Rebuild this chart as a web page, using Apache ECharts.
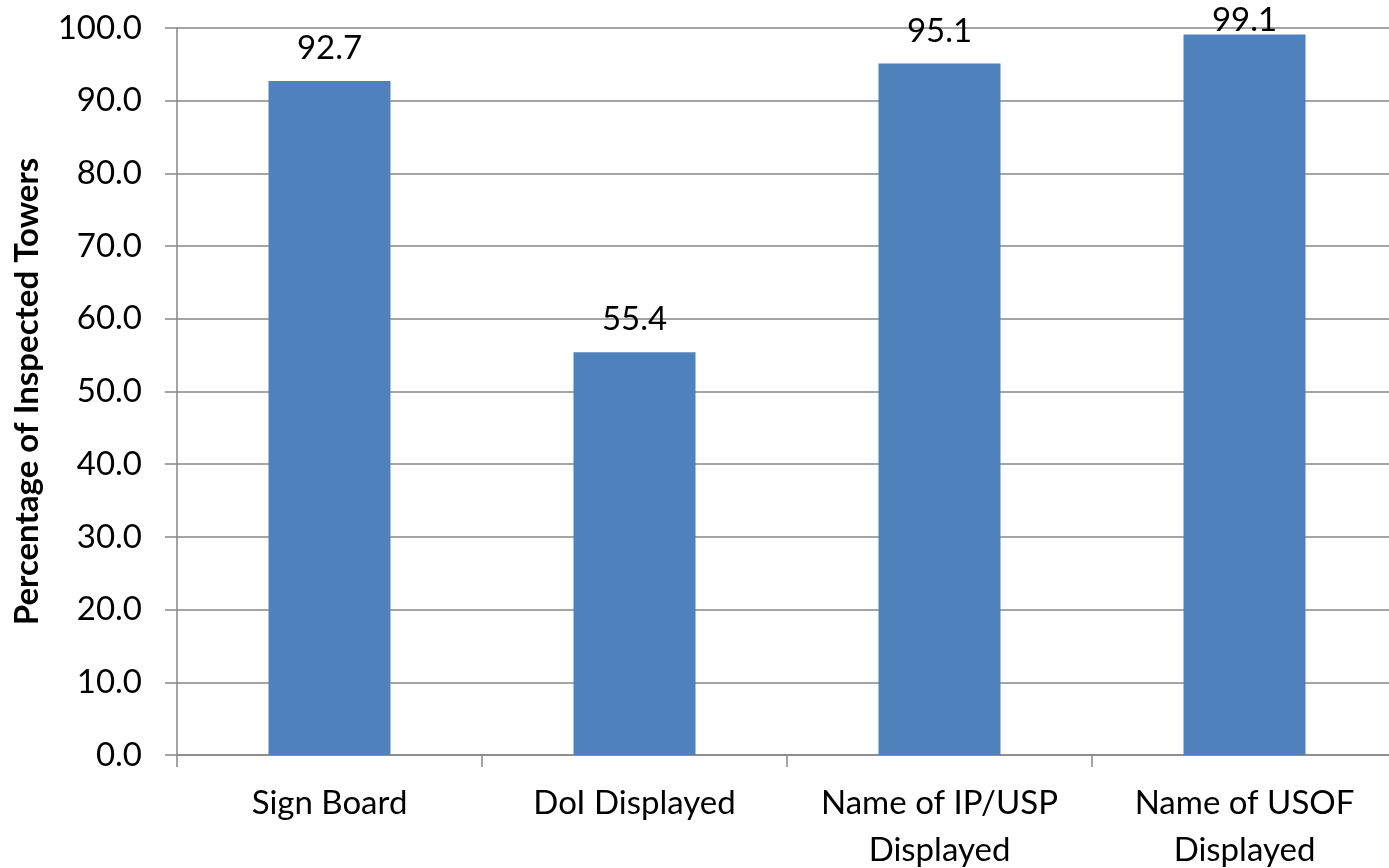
<!DOCTYPE html>
<html><head><meta charset="utf-8">
<script src="https://cdn.jsdelivr.net/npm/echarts@6/dist/echarts.min.js"></script>
<style>html,body{margin:0;padding:0;overflow:hidden;background:#fff}#c{width:1397px;height:868px}</style>
</head><body><div id="c"></div>
<script>
const categories = ["Sign Board", "DoI Displayed", "Name of IP/USP\nDisplayed", "Name of USOF\nDisplayed"];
const values = [92.7, 55.4, 95.1, 99.1];
const yTitle = "Percentage of Inspected Towers";
const chart = echarts.init(document.getElementById('c'), null, {renderer: 'canvas'});
const font = 'Lato, "Open Sans", sans-serif';
// Excel keeps the top label inside the chart area, so near-100 labels sit closer to the bar
const barData = values.map(v => v > 98 ? {value: v, label: {distance: -2}} : v);
chart.setOption({
  animation: false,
  grid: {left: 177, right: 0, top: 28, bottom: 113, containLabel: false, outerBoundsMode: 'none'},
  xAxis: {
    type: 'category', data: categories,
    axisLine: {lineStyle: {color: '#868686', width: 1.5}},
    axisTick: {show: true, length: 12, lineStyle: {color: '#868686', width: 1.5}},
    axisLabel: {color: '#000', fontSize: 33, fontFamily: font, margin: 25, lineHeight: 47, interval: 0}
  },
  yAxis: {
    type: 'value', min: 0, max: 100, interval: 10,
    name: yTitle, nameLocation: 'middle', nameGap: 133, nameRotate: 90,
    nameTextStyle: {color: '#000', fontSize: 33, fontWeight: 'bold', fontFamily: font},
    axisLine: {show: true, lineStyle: {color: '#868686', width: 1.5}},
    axisTick: {show: true, length: 12, inside: false, lineStyle: {color: '#868686', width: 1.5}},
    splitLine: {lineStyle: {color: '#868686', width: 1.5}},
    axisLabel: {color: '#000', fontSize: 33, fontFamily: font, margin: 35, formatter: v => v.toFixed(1)}
  },
  series: [{
    type: 'bar', data: barData, barWidth: '40%',
    itemStyle: {color: '#4F81BD'},
    label: {show: true, position: 'top', distance: 16, color: '#000', fontSize: 33, fontFamily: font, formatter: p => p.value.toFixed(1)}
  }]
});
</script></body></html>
